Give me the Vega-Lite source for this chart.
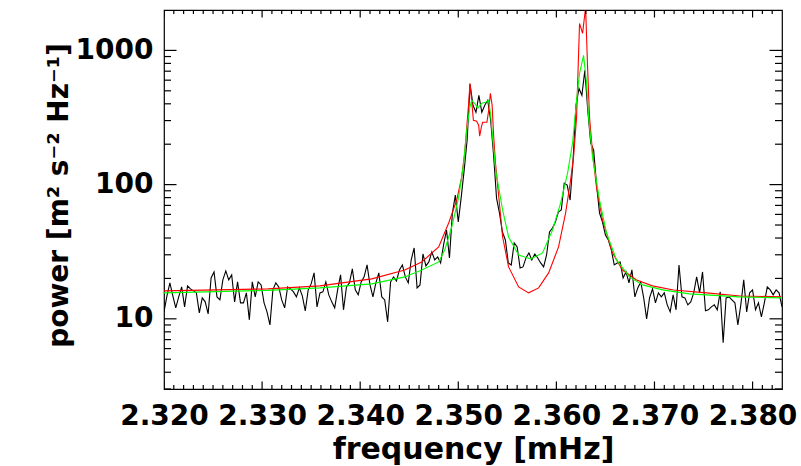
{
"$schema": "https://vega.github.io/schema/vega-lite/v6.json",
"width": 618, "height": 379,
"autosize": "none",
"padding": {"left": 164, "top": 10, "right": 19, "bottom": 77},
"background": "white",
"config": {"view": {"stroke": "black", "strokeWidth": 1.2}, "axis": {"grid": false, "labelColor": "black", "titleColor": "black"}},
"datasets": {
"obs": [
{"f":2.3200,"p":11.27},{"f":2.3203,"p":14.83},{"f":2.3206,"p":18.52},{"f":2.3209,"p":14.83},{"f":2.3212,"p":12.07},{"f":2.3215,"p":14.57},{"f":2.3218,"p":17.30},{"f":2.3221,"p":12.28},{"f":2.3224,"p":17.60},{"f":2.3227,"p":16.71},
{"f":2.3230,"p":16.15},{"f":2.3233,"p":15.61},{"f":2.3236,"p":11.08},{"f":2.3239,"p":14.33},{"f":2.3242,"p":13.38},{"f":2.3245,"p":10.89},{"f":2.3248,"p":20.18},{"f":2.3251,"p":22.36},{"f":2.3254,"p":14.57},{"f":2.3257,"p":13.84},
{"f":2.3260,"p":19.50},{"f":2.3263,"p":22.75},{"f":2.3266,"p":19.50},{"f":2.3269,"p":21.24},{"f":2.3272,"p":13.38},{"f":2.3275,"p":18.84},{"f":2.3278,"p":13.15},{"f":2.3281,"p":13.15},{"f":2.3284,"p":15.61},{"f":2.3287,"p":9.83},
{"f":2.3290,"p":18.84},{"f":2.3293,"p":14.57},{"f":2.3296,"p":18.84},{"f":2.3299,"p":17.90},{"f":2.3302,"p":13.15},{"f":2.3305,"p":11.27},{"f":2.3308,"p":9.02},{"f":2.3311,"p":16.43},{"f":2.3314,"p":18.52},{"f":2.3317,"p":17.30},
{"f":2.3320,"p":13.84},{"f":2.3323,"p":12.07},{"f":2.3326,"p":17.30},{"f":2.3329,"p":16.71},{"f":2.3332,"p":15.88},{"f":2.3335,"p":14.57},{"f":2.3338,"p":17.00},{"f":2.3341,"p":14.83},{"f":2.3344,"p":11.47},{"f":2.3347,"p":16.43},
{"f":2.3350,"p":18.21},{"f":2.3353,"p":21.98},{"f":2.3356,"p":12.28},{"f":2.3359,"p":15.61},{"f":2.3362,"p":15.88},{"f":2.3365,"p":18.84},{"f":2.3368,"p":15.08},{"f":2.3371,"p":13.38},{"f":2.3374,"p":12.07},{"f":2.3377,"p":16.43},
{"f":2.3380,"p":21.24},{"f":2.3383,"p":11.67},{"f":2.3386,"p":17.30},{"f":2.3389,"p":18.52},{"f":2.3392,"p":23.54},{"f":2.3395,"p":16.43},{"f":2.3398,"p":15.08},{"f":2.3401,"p":18.84},{"f":2.3404,"p":20.53},{"f":2.3407,"p":25.21},
{"f":2.3410,"p":17.90},{"f":2.3413,"p":14.57},{"f":2.3416,"p":18.52},{"f":2.3419,"p":21.98},{"f":2.3422,"p":14.57},{"f":2.3425,"p":13.84},{"f":2.3428,"p":9.50},{"f":2.3431,"p":18.84},{"f":2.3434,"p":20.53},{"f":2.3437,"p":19.17},
{"f":2.3440,"p":23.14},{"f":2.3443,"p":25.21},{"f":2.3446,"p":20.53},{"f":2.3449,"p":18.52},{"f":2.3452,"p":27.46},{"f":2.3455,"p":33.73},{"f":2.3458,"p":17.00},{"f":2.3461,"p":17.90},{"f":2.3464,"p":30.44},{"f":2.3467,"p":24.78},
{"f":2.3470,"p":26.54},{"f":2.3473,"p":31.48},{"f":2.3476,"p":27.46},{"f":2.3479,"p":28.91},{"f":2.3482,"p":26.09},{"f":2.3485,"p":35.51},{"f":2.3488,"p":45.89},{"f":2.3491,"p":28.42},{"f":2.3494,"p":61.40},{"f":2.3497,"p":83.57},
{"f":2.3500,"p":52.63},{"f":2.3503,"p":80.75},{"f":2.3506,"p":128.2},{"f":2.3509,"p":214.2},{"f":2.3512,"p":558.9},{"f":2.3515,"p":390.0},{"f":2.3518,"p":345.9},{"f":2.3521,"p":462.9},{"f":2.3524,"p":345.9},{"f":2.3527,"p":390.0},
{"f":2.3530,"p":425.0},{"f":2.3533,"p":301.7},{"f":2.3536,"p":165.7},{"f":2.3539,"p":79.38},{"f":2.3542,"p":61.40},{"f":2.3545,"p":44.36},{"f":2.3548,"p":38.68},{"f":2.3551,"p":26.09},{"f":2.3554,"p":25.21},{"f":2.3557,"p":36.75},
{"f":2.3560,"p":34.31},{"f":2.3563,"p":23.95},{"f":2.3566,"p":24.36},{"f":2.3569,"p":28.42},{"f":2.3572,"p":30.96},{"f":2.3575,"p":27.46},{"f":2.3578,"p":30.44},{"f":2.3581,"p":28.42},{"f":2.3584,"p":26.09},{"f":2.3587,"p":24.36},
{"f":2.3590,"p":29.92},{"f":2.3593,"p":44.36},{"f":2.3596,"p":47.49},{"f":2.3599,"p":52.63},{"f":2.3602,"p":62.46},{"f":2.3605,"p":64.63},{"f":2.3608,"p":102.6},{"f":2.3611,"p":99.2},{"f":2.3614,"p":76.71},{"f":2.3617,"p":152.1},
{"f":2.3620,"p":390.0},{"f":2.3623,"p":521.9},{"f":2.3626,"p":462.9},{"f":2.3629,"p":710.1},{"f":2.3632,"p":358.0},{"f":2.3635,"p":203.5},{"f":2.3638,"p":180.5},{"f":2.3641,"p":99.2},{"f":2.3644,"p":61.40},{"f":2.3647,"p":52.63},
{"f":2.3650,"p":42.13},{"f":2.3653,"p":38.68},{"f":2.3656,"p":32.59},{"f":2.3659,"p":25.21},{"f":2.3662,"p":26.09},{"f":2.3665,"p":26.54},{"f":2.3668,"p":20.18},{"f":2.3671,"p":22.36},{"f":2.3674,"p":18.52},{"f":2.3677,"p":23.14},
{"f":2.3680,"p":14.57},{"f":2.3683,"p":17.00},{"f":2.3686,"p":18.84},{"f":2.3689,"p":14.33},{"f":2.3692,"p":10.00},{"f":2.3695,"p":14.33},{"f":2.3698,"p":16.71},{"f":2.3701,"p":13.15},{"f":2.3704,"p":15.61},{"f":2.3707,"p":14.57},
{"f":2.3710,"p":15.61},{"f":2.3713,"p":12.71},{"f":2.3716,"p":11.27},{"f":2.3719,"p":15.08},{"f":2.3722,"p":11.67},{"f":2.3725,"p":25.21},{"f":2.3728,"p":14.57},{"f":2.3731,"p":14.33},{"f":2.3734,"p":12.71},{"f":2.3737,"p":13.38},
{"f":2.3740,"p":15.61},{"f":2.3743,"p":20.53},{"f":2.3746,"p":15.61},{"f":2.3749,"p":22.36},{"f":2.3752,"p":11.47},{"f":2.3755,"p":11.67},{"f":2.3758,"p":12.28},{"f":2.3761,"p":12.71},{"f":2.3764,"p":11.67},{"f":2.3767,"p":15.88},
{"f":2.3770,"p":6.63},{"f":2.3773,"p":14.33},{"f":2.3776,"p":14.57},{"f":2.3779,"p":13.84},{"f":2.3782,"p":13.15},{"f":2.3785,"p":9.02},{"f":2.3788,"p":12.71},{"f":2.3791,"p":19.50},{"f":2.3794,"p":11.27},{"f":2.3797,"p":15.61},
{"f":2.3800,"p":16.43},{"f":2.3803,"p":11.67},{"f":2.3806,"p":13.15},{"f":2.3809,"p":10.35},{"f":2.3812,"p":13.15},{"f":2.3815,"p":17.30},{"f":2.3818,"p":16.43},{"f":2.3821,"p":15.08},{"f":2.3824,"p":16.43},{"f":2.3827,"p":15.61},
{"f":2.3830,"p":12.28}
],
"modelA": [
{"f":2.32000,"p":16.15},{"f":2.33059,"p":16.71},{"f":2.33589,"p":17.6},{"f":2.34118,"p":19.84},{"f":2.34454,"p":23.14},{"f":2.34627,"p":26.54},{"f":2.34800,"p":34.31},{"f":2.34902,"p":51.74},{"f":2.34984,"p":76.7},{"f":2.35035,"p":113.7},
{"f":2.35065,"p":171.5},{"f":2.35106,"p":403.6},{"f":2.35119,"p":568.5},{"f":2.35136,"p":425},{"f":2.35154,"p":301.7},{"f":2.35187,"p":296.6},{"f":2.35208,"p":277.0},{"f":2.35218,"p":229.4},{"f":2.35235,"p":267.7},{"f":2.35248,"p":291.5},
{"f":2.35292,"p":291.5},{"f":2.35310,"p":358},{"f":2.35327,"p":479},{"f":2.35345,"p":390},{"f":2.35360,"p":233.3},{"f":2.35381,"p":139.6},{"f":2.35411,"p":83.6},{"f":2.35452,"p":40.7},{"f":2.35513,"p":24.36},{"f":2.35615,"p":17.3},
{"f":2.35717,"p":15.61},{"f":2.35819,"p":17.0},{"f":2.35921,"p":21.98},{"f":2.36022,"p":34.31},{"f":2.36094,"p":61.4},{"f":2.36145,"p":108},{"f":2.36175,"p":160.1},{"f":2.36206,"p":317.6},{"f":2.36236,"p":1588},{"f":2.36267,"p":1338},
{"f":2.36298,"p":2088},{"f":2.36318,"p":747.5},{"f":2.36338,"p":317.6},{"f":2.36369,"p":171.5},{"f":2.36409,"p":95.8},{"f":2.36470,"p":54.5},{"f":2.36572,"p":31.0},{"f":2.36674,"p":23.1},{"f":2.36817,"p":19.5},{"f":2.36980,"p":17.6},
{"f":2.37193,"p":16.4},{"f":2.37530,"p":15.6},{"f":2.37876,"p":14.8},{"f":2.38293,"p":14.6}
],
"modelB": [
{"f":2.32000,"p":15.61},{"f":2.33059,"p":16.29},{"f":2.33589,"p":17.0},{"f":2.34118,"p":18.21},{"f":2.34454,"p":20.53},{"f":2.34627,"p":23.14},{"f":2.34800,"p":26.54},{"f":2.34862,"p":32.59},{"f":2.34933,"p":48.31},{"f":2.35004,"p":80.75},
{"f":2.35055,"p":144.5},{"f":2.35086,"p":254.2},{"f":2.35116,"p":370.5},{"f":2.35136,"p":425},{"f":2.35167,"p":403.6},{"f":2.35198,"p":370.5},{"f":2.35238,"p":403.6},{"f":2.35279,"p":410.6},{"f":2.35310,"p":425},{"f":2.35330,"p":328.7},
{"f":2.35350,"p":225.5},{"f":2.35381,"p":128.2},{"f":2.35452,"p":64.63},{"f":2.35513,"p":40.72},{"f":2.35615,"p":29.92},{"f":2.35737,"p":27.94},{"f":2.35859,"p":30.96},{"f":2.35961,"p":45.89},{"f":2.36043,"p":72.9},{"f":2.36114,"p":121.8},
{"f":2.36165,"p":203.5},{"f":2.36206,"p":425},{"f":2.36236,"p":674.5},{"f":2.36277,"p":918},{"f":2.36308,"p":568.5},{"f":2.36328,"p":317.6},{"f":2.36369,"p":160.1},{"f":2.36440,"p":76.71},{"f":2.36511,"p":43.60},{"f":2.36613,"p":27.46},
{"f":2.36745,"p":20.53},{"f":2.36878,"p":17.90},{"f":2.37081,"p":16.43},{"f":2.37356,"p":15.34},{"f":2.37865,"p":14.57},{"f":2.38293,"p":14.33}
],
"xmaj": [{"f":2.32},{"f":2.33},{"f":2.34},{"f":2.35},{"f":2.36},{"f":2.37},{"f":2.38}],
"xmin": [{"f":2.321},{"f":2.322},{"f":2.323},{"f":2.324},{"f":2.325},{"f":2.326},{"f":2.327},{"f":2.328},{"f":2.329},{"f":2.331},{"f":2.332},{"f":2.333},{"f":2.334},{"f":2.335},{"f":2.336},{"f":2.337},{"f":2.338},{"f":2.339},{"f":2.341},{"f":2.342},{"f":2.343},{"f":2.344},{"f":2.345},{"f":2.346},{"f":2.347},{"f":2.348},{"f":2.349},{"f":2.351},{"f":2.352},{"f":2.353},{"f":2.354},{"f":2.355},{"f":2.356},{"f":2.357},{"f":2.358},{"f":2.359},{"f":2.361},{"f":2.362},{"f":2.363},{"f":2.364},{"f":2.365},{"f":2.366},{"f":2.367},{"f":2.368},{"f":2.369},{"f":2.371},{"f":2.372},{"f":2.373},{"f":2.374},{"f":2.375},{"f":2.376},{"f":2.377},{"f":2.378},{"f":2.379},{"f":2.381},{"f":2.382}],
"ymaj": [{"p":10},{"p":100},{"p":1000}],
"ymin": [{"p":3},{"p":4},{"p":5},{"p":6},{"p":7},{"p":8},{"p":9},{"p":20},{"p":30},{"p":40},{"p":50},{"p":60},{"p":70},{"p":80},{"p":90},{"p":200},{"p":300},{"p":400},{"p":500},{"p":600},{"p":700},{"p":800},{"p":900}]
},
"layer": [
{"data": {"name": "obs"},
 "mark": {"type": "line", "color": "black", "strokeWidth": 1.1, "clip": true},
 "encoding": {
  "x": {"field": "f", "type": "quantitative", "scale": {"domain": [2.32, 2.383], "nice": false, "zero": false},
        "axis": {"orient": "bottom", "values": [2.32, 2.33, 2.34, 2.35, 2.36, 2.37, 2.38], "format": ".3f", "ticks": false, "domain": false, "labelPadding": 13, "labelFlush": false, "labelOverlap": false,
                 "labelFont": "DejaVu Sans", "labelFontWeight": "bold", "labelFontSize": 28,
                 "title": "frequency [mHz]", "titleFont": "DejaVu Sans", "titleFontWeight": "bold", "titleFontSize": 30, "titleY": 69, "titleBaseline": "alphabetic"}},
  "y": {"field": "p", "type": "quantitative", "scale": {"type": "log", "domain": [3, 2000], "nice": false},
        "axis": {"orient": "left", "values": [10, 100, 1000], "format": "d", "ticks": false, "domain": false, "labelPadding": 11, "labelFlush": false, "labelOverlap": false,
                 "labelFont": "DejaVu Sans", "labelFontWeight": "bold", "labelFontSize": 28,
                 "title": "power [m² s⁻² Hz⁻¹]", "titleFont": "DejaVu Sans", "titleFontWeight": "bold", "titleFontSize": 28, "titleX": -97, "titleY": 185, "titleBaseline": "alphabetic", "titleAngle": 270}}
 }},
{"data": {"name": "modelA"},
 "mark": {"type": "line", "color": "#ff0000", "strokeWidth": 1.1, "clip": true},
 "encoding": {
  "x": {"field": "f", "type": "quantitative", "scale": {"domain": [2.32, 2.383], "nice": false, "zero": false}, "axis": null},
  "y": {"field": "p", "type": "quantitative", "scale": {"type": "log", "domain": [3, 2000], "nice": false}, "axis": null}
 }},
{"data": {"name": "modelB"},
 "mark": {"type": "line", "color": "#00ff00", "strokeWidth": 1.1, "clip": true},
 "encoding": {
  "x": {"field": "f", "type": "quantitative", "scale": {"domain": [2.32, 2.383], "nice": false, "zero": false}, "axis": null},
  "y": {"field": "p", "type": "quantitative", "scale": {"type": "log", "domain": [3, 2000], "nice": false}, "axis": null}
 }},
{"data": {"name": "xmaj"},
 "mark": {"type": "tick", "orient": "vertical", "size": 15, "thickness": 1.2, "color": "black", "opacity": 1, "clip": true},
 "encoding": {
  "x": {"field": "f", "type": "quantitative", "scale": {"domain": [2.32, 2.383], "nice": false, "zero": false}, "axis": null},
  "y": {"datum": 3, "type": "quantitative", "scale": {"type": "log", "domain": [3, 2000], "nice": false}, "axis": null}
 }},
{"data": {"name": "xmaj"},
 "mark": {"type": "tick", "orient": "vertical", "size": 15, "thickness": 1.2, "color": "black", "opacity": 1, "clip": true},
 "encoding": {
  "x": {"field": "f", "type": "quantitative", "scale": {"domain": [2.32, 2.383], "nice": false, "zero": false}, "axis": null},
  "y": {"datum": 2000, "type": "quantitative", "scale": {"type": "log", "domain": [3, 2000], "nice": false}, "axis": null}
 }},
{"data": {"name": "xmin"},
 "mark": {"type": "tick", "orient": "vertical", "size": 8, "thickness": 1.2, "color": "black", "opacity": 1, "clip": true},
 "encoding": {
  "x": {"field": "f", "type": "quantitative", "scale": {"domain": [2.32, 2.383], "nice": false, "zero": false}, "axis": null},
  "y": {"datum": 3, "type": "quantitative", "scale": {"type": "log", "domain": [3, 2000], "nice": false}, "axis": null}
 }},
{"data": {"name": "xmin"},
 "mark": {"type": "tick", "orient": "vertical", "size": 8, "thickness": 1.2, "color": "black", "opacity": 1, "clip": true},
 "encoding": {
  "x": {"field": "f", "type": "quantitative", "scale": {"domain": [2.32, 2.383], "nice": false, "zero": false}, "axis": null},
  "y": {"datum": 2000, "type": "quantitative", "scale": {"type": "log", "domain": [3, 2000], "nice": false}, "axis": null}
 }},
{"data": {"name": "ymaj"},
 "mark": {"type": "tick", "orient": "horizontal", "size": 25, "thickness": 1.2, "color": "black", "opacity": 1, "clip": true},
 "encoding": {
  "x": {"datum": 2.32, "type": "quantitative", "scale": {"domain": [2.32, 2.383], "nice": false, "zero": false}, "axis": null},
  "y": {"field": "p", "type": "quantitative", "scale": {"type": "log", "domain": [3, 2000], "nice": false}, "axis": null}
 }},
{"data": {"name": "ymaj"},
 "mark": {"type": "tick", "orient": "horizontal", "size": 25, "thickness": 1.2, "color": "black", "opacity": 1, "clip": true},
 "encoding": {
  "x": {"datum": 2.383, "type": "quantitative", "scale": {"domain": [2.32, 2.383], "nice": false, "zero": false}, "axis": null},
  "y": {"field": "p", "type": "quantitative", "scale": {"type": "log", "domain": [3, 2000], "nice": false}, "axis": null}
 }},
{"data": {"name": "ymin"},
 "mark": {"type": "tick", "orient": "horizontal", "size": 14, "thickness": 1.2, "color": "black", "opacity": 1, "clip": true},
 "encoding": {
  "x": {"datum": 2.32, "type": "quantitative", "scale": {"domain": [2.32, 2.383], "nice": false, "zero": false}, "axis": null},
  "y": {"field": "p", "type": "quantitative", "scale": {"type": "log", "domain": [3, 2000], "nice": false}, "axis": null}
 }},
{"data": {"name": "ymin"},
 "mark": {"type": "tick", "orient": "horizontal", "size": 14, "thickness": 1.2, "color": "black", "opacity": 1, "clip": true},
 "encoding": {
  "x": {"datum": 2.383, "type": "quantitative", "scale": {"domain": [2.32, 2.383], "nice": false, "zero": false}, "axis": null},
  "y": {"field": "p", "type": "quantitative", "scale": {"type": "log", "domain": [3, 2000], "nice": false}, "axis": null}
 }}
],
"resolve": {"axis": {"x": "independent", "y": "independent"}}
}
